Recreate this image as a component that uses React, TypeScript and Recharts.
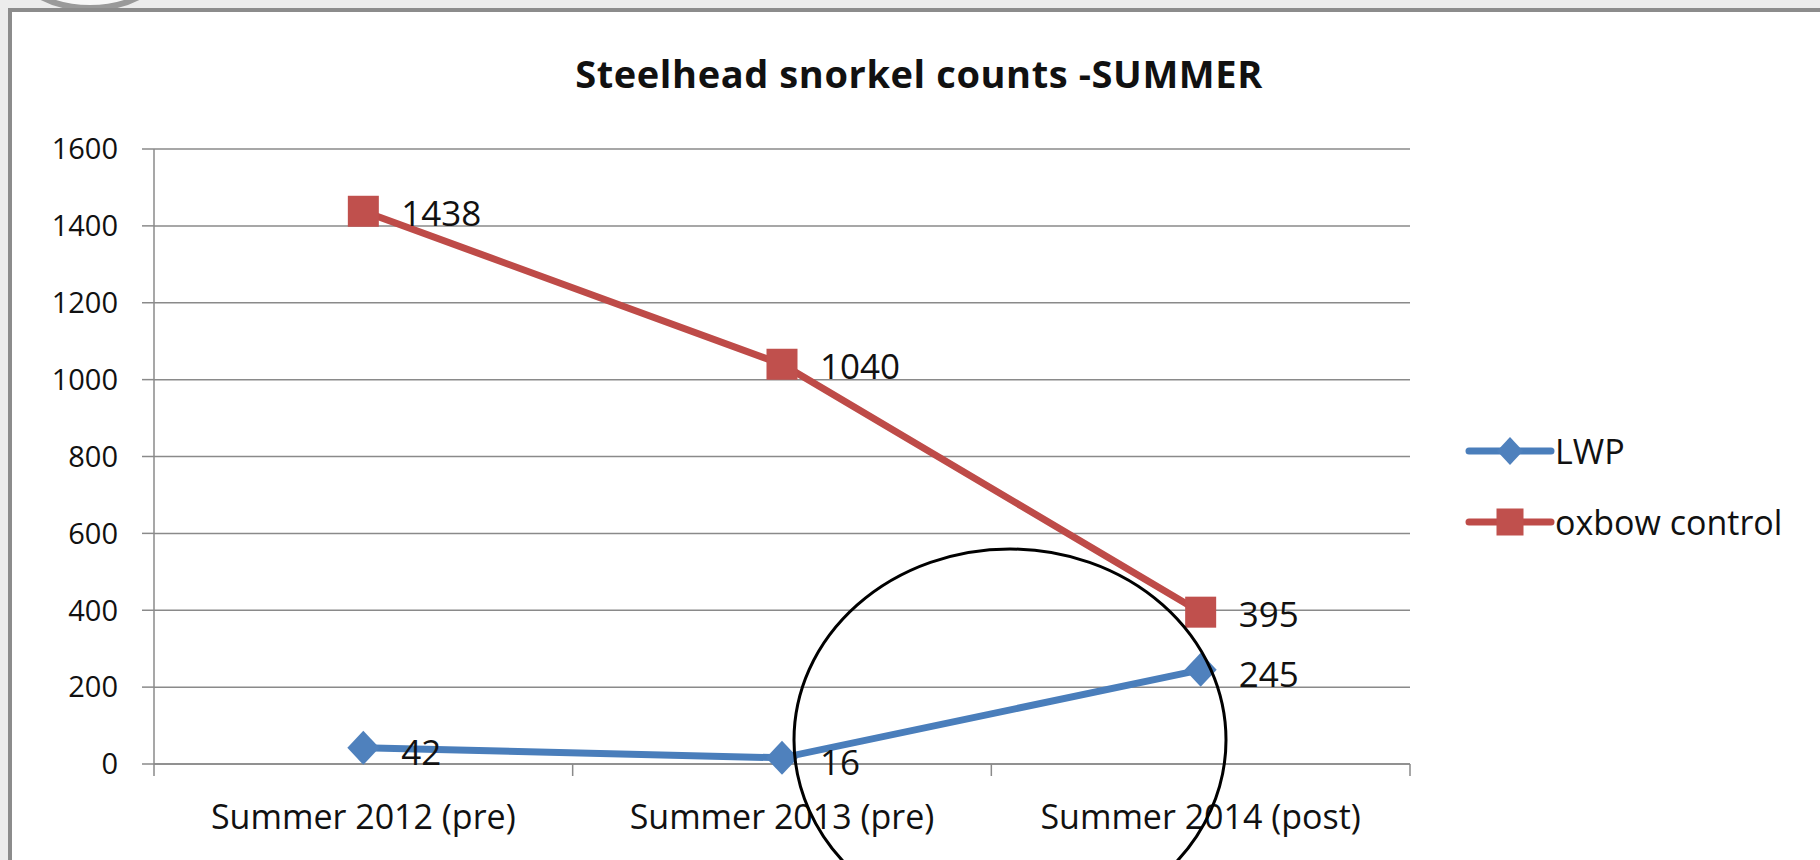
import { LineChart, Line, XAxis, YAxis, CartesianGrid, Legend, LabelList } from "recharts";

// Steelhead snorkel counts, summer surveys
const categories = ["Summer 2012 (pre)", "Summer 2013 (pre)", "Summer 2014 (post)"];
const lwpCounts = [42, 16, 245];
const oxbowCounts = [1438, 1040, 395];
const yTicks = [0, 200, 400, 600, 800, 1000, 1200, 1400, 1600];

const data = categories.map((name, i) => ({
  name,
  lwp: lwpCounts[i],
  oxbow: oxbowCounts[i],
}));

const W = 1820;
const H = 860;
const PLOT_LEFT = 154;
const PLOT_RIGHT = 1410;
const PLOT_TOP = 149;
const PLOT_BOTTOM = 764;
const HALF_BAND = (PLOT_RIGHT - PLOT_LEFT) / categories.length / 2;

const BLUE = "#4a7ebb";
const BLUE_DOT = "#4f81bd";
const RED = "#be4b48";
const RED_DOT = "#c0504d";
const GRID = "#8a8a8a";
const INK = "#111";
const FONT = "'Open Sans', 'Liberation Sans', sans-serif";

function Diamond({ cx, cy, fill, r = 17 }: any) {
  if (cx == null || cy == null) return null;
  return <path d={`M${cx},${cy - r} L${cx + r - 1},${cy} L${cx},${cy + r} L${cx - r + 1},${cy} Z`} fill={fill} />;
}

function Square({ cx, cy, fill, s = 31 }: any) {
  if (cx == null || cy == null) return null;
  return <rect x={cx - s / 2} y={cy - s / 2} width={s} height={s} fill={fill} />;
}

function CategoryTick({ x, y, payload, index }: any) {
  return (
    <g>
      {index === 0 && (
        <line x1={x - HALF_BAND} x2={x - HALF_BAND} y1={y} y2={y + 12} stroke={GRID} strokeWidth={1.5} />
      )}
      <line x1={x + HALF_BAND} x2={x + HALF_BAND} y1={y} y2={y + 12} stroke={GRID} strokeWidth={1.5} />
      <text x={x} y={y + 65} textAnchor="middle" fontSize={34} fontFamily={FONT} fill={INK}>
        {payload.value}
      </text>
    </g>
  );
}

function LegendBox() {
  const rows = [
    { label: "LWP", color: BLUE, dot: BLUE_DOT, shape: "diamond" },
    { label: "oxbow control", color: RED, dot: RED_DOT, shape: "square" },
  ];
  return (
    <div style={{ fontFamily: FONT, fontSize: 34, color: INK }}>
      {rows.map((r) => (
        <div key={r.label} style={{ display: "flex", alignItems: "center", height: 71 }}>
          <svg width={90} height={34} style={{ marginRight: 0 }}>
            <line x1={4} x2={86} y1={17} y2={17} stroke={r.color} strokeWidth={7} strokeLinecap="round" />
            {r.shape === "diamond" ? (
              <Diamond cx={45} cy={17} r={14} fill={r.dot} />
            ) : (
              <Square cx={45} cy={17} s={27} fill={r.dot} />
            )}
          </svg>
          <span style={{ lineHeight: "34px" }}>{r.label}</span>
        </div>
      ))}
    </div>
  );
}

export default function App() {
  return (
    <div style={{ position: "absolute", left: 0, top: 0, width: W, height: H, background: "#ececec", overflow: "hidden" }}>
      {/* window chrome behind the pasted chart */}
      <svg width={W} height={H} style={{ position: "absolute", left: 0, top: 0 }}>
        <ellipse cx={90} cy={-34} rx={72} ry={42} fill="#f7f7f7" stroke="#9a9a9a" strokeWidth={6} />
      </svg>
      <div
        style={{
          position: "absolute",
          left: 8,
          top: 8,
          width: W,
          height: H,
          background: "#fff",
          borderLeft: "4px solid #8c8c8c",
          borderTop: "4px solid #8c8c8c",
        }}
      />
      <div style={{ position: "absolute", left: 0, top: 0, width: W, height: H }}>
        <div
          style={{
            position: "absolute",
            left: 919,
            top: 47,
            transform: "translateX(-50%)",
            whiteSpace: "nowrap",
            fontFamily: FONT,
            fontWeight: 700,
            fontSize: 38,
            letterSpacing: 0.6,
            color: INK,
          }}
        >
          Steelhead snorkel counts -SUMMER
        </div>
        <LineChart
          width={W}
          height={H}
          data={data}
          margin={{ top: PLOT_TOP, right: W - PLOT_RIGHT, bottom: H - PLOT_BOTTOM - 60, left: PLOT_LEFT - 100 }}
        >
          <CartesianGrid horizontal vertical={false} stroke={GRID} strokeWidth={1.5} />
          <XAxis
            dataKey="name"
            height={60}
            padding={{ left: HALF_BAND, right: HALF_BAND }}
            axisLine={{ stroke: GRID, strokeWidth: 1.5 }}
            tickLine={false}
            tickSize={0}
            tickMargin={0}
            tick={<CategoryTick />}
            interval={0}
          />
          <YAxis
            width={100}
            domain={[0, 1600]}
            ticks={yTicks}
            interval={0}
            axisLine={{ stroke: GRID, strokeWidth: 1.5 }}
            tickLine={{ stroke: GRID, strokeWidth: 1.5 }}
            tickSize={12}
            tickMargin={24}
            tick={{ fontSize: 29, fontFamily: FONT, fill: INK }}
          />
          <Legend
            layout="vertical"
            align="center"
            verticalAlign="middle"
            content={<LegendBox />}
            wrapperStyle={{ left: 1465, top: 415, width: 350 }}
          />
          <Line
            type="linear"
            dataKey="lwp"
            name="LWP"
            stroke={BLUE}
            strokeWidth={7}
            dot={(p: any) => <Diamond key={`d${p.index}`} cx={p.cx} cy={p.cy} fill={BLUE_DOT} />}
            activeDot={false}
            isAnimationActive={false}
          >
            <LabelList dataKey="lwp" position="right" offset={38} fontSize={35} fontFamily={FONT} fill={INK} dy={5} />
          </Line>
          <Line
            type="linear"
            dataKey="oxbow"
            name="oxbow control"
            stroke={RED}
            strokeWidth={7}
            dot={(p: any) => <Square key={`s${p.index}`} cx={p.cx} cy={p.cy} fill={RED_DOT} />}
            activeDot={false}
            isAnimationActive={false}
          >
            <LabelList dataKey="oxbow" position="right" offset={38} fontSize={35} fontFamily={FONT} fill={INK} dy={2} />
          </Line>
        </LineChart>
        {/* hand-drawn annotation circle */}
        <svg width={W} height={H} style={{ position: "absolute", left: 0, top: 0, pointerEvents: "none" }}>
          <ellipse cx={1010} cy={740} rx={216} ry={191} fill="none" stroke="#000" strokeWidth={3} />
        </svg>
      </div>
    </div>
  );
}
